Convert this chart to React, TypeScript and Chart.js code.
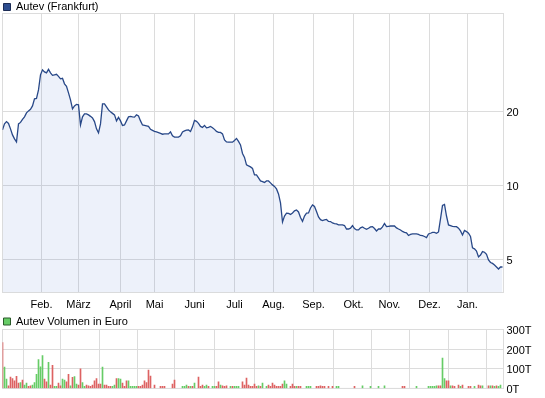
import React, { useEffect, useRef } from "react";
import { Chart, registerables } from "chart.js";
Chart.register(...registerables);

// ---- data ----
const monthLabels = ["Feb.", "März", "April", "Mai", "Juni", "Juli", "Aug.", "Sep.", "Okt.", "Nov.", "Dez.", "Jan."];
// month boundaries, expressed in trading-day index
const monthStarts = [19.5, 38, 59, 76, 96, 116, 135.5, 155.5, 175.5, 193.5, 213.5, 232.5];
const priceTicks = [5, 10, 20];
const volumeTicks = [0, 100, 200, 300];

// daily closing price (EUR), one per trading day
const priceValues = [
  16.82, 17.79, 18.18, 17.87, 16.98, 16.05, 15.46, 15.03, 17.79, 18.04,
  18.55, 19.0, 19.72, 20.09, 20.38, 21.05, 22.48, 22.59, 24.46, 28.15,
  29.5, 28.95, 28.68, 29.64, 28.68, 28.02, 28.15, 28.29, 27.76, 27.12,
  27.24, 25.88, 25.28, 23.78, 22.28, 20.47, 21.05, 21.36, 21.26, 17.62,
  19.0, 19.54, 19.54, 19.35, 19.09, 18.82, 18.18, 16.98, 16.35, 17.79,
  21.46, 21.46, 20.86, 20.28, 19.91, 19.63, 19.35, 18.3, 18.91, 18.3,
  17.54, 17.62, 18.3, 19.0, 19.09, 19.0, 18.95, 19.35, 19.17, 18.3,
  17.62, 17.54, 17.46, 17.38, 16.9, 16.74, 16.58, 16.51, 16.4, 16.28,
  16.15, 16.2, 16.2, 16.2, 16.51, 15.9, 15.71, 15.71, 15.71, 15.9,
  16.51, 16.66, 16.77, 16.82, 16.58, 17.3, 18.38, 18.21, 17.87, 17.38,
  17.22, 17.54, 17.14, 17.22, 17.38, 17.17, 16.9, 16.58, 16.43, 16.43,
  16.2, 15.31, 15.03, 14.99, 14.99, 14.99, 15.24, 15.53, 15.1, 14.61,
  13.49, 13.0, 12.12, 12.0, 11.89, 11.73, 11.03, 11.03, 10.73, 10.43,
  10.36, 10.28, 10.43, 10.43, 10.24, 10.05, 9.91, 9.68, 9.23, 8.49,
  7.1, 7.51, 7.71, 7.69, 7.62, 7.73, 7.88, 7.95, 7.8, 7.41,
  7.14, 7.51, 7.71, 7.73, 8.1, 8.33, 8.21, 7.84, 7.44, 7.26,
  7.2, 7.24, 7.27, 7.14, 7.13, 7.04, 7.0, 6.97, 6.91, 6.91,
  6.91, 6.87, 6.65, 6.65, 6.7, 6.87, 6.68, 6.59, 6.59, 6.72,
  6.78, 6.7, 6.63, 6.7, 6.78, 6.8, 6.68, 6.53, 6.65, 6.65,
  6.78, 7.0, 6.8, 6.82, 6.84, 6.84, 6.84, 6.72, 6.65, 6.59,
  6.5, 6.44, 6.41, 6.26, 6.32, 6.35, 6.35, 6.35, 6.32, 6.26,
  6.25, 6.2, 6.14, 6.35, 6.39, 6.44, 6.44, 6.39, 6.47, 7.31,
  8.29, 8.37, 7.51, 6.91, 6.86, 6.81, 6.8, 6.8, 6.7, 6.53,
  6.29, 6.56, 6.49, 6.39, 6.2, 5.57, 5.52, 5.41, 5.12, 5.21,
  5.38, 5.35, 5.25, 4.98, 4.86, 4.82, 4.75, 4.66, 4.57, 4.66,
  4.66,
];

// trading-day index of each volume bar
const volumeDay = [
  0, 1, 2, 3, 4, 5, 6, 7, 8, 9,
  10, 11, 12, 13, 14, 15, 16, 17, 18, 19,
  20, 21, 22, 23, 24, 25, 26, 27, 28, 29,
  30, 31, 32, 33, 34, 35, 36, 37, 38, 39,
  40, 41, 42, 43, 44, 45, 46, 47, 48, 49,
  50, 51, 52, 53, 54, 55, 56, 57, 58, 59,
  60, 61, 62, 63, 64, 65, 66, 67, 68, 69,
  70, 71, 72, 73, 74, 76, 79, 80, 81, 85,
  86, 90, 91, 92, 93, 94, 95, 96, 98, 99,
  100, 101, 102, 103, 105, 106, 107, 108, 109, 110,
  111, 112, 114, 115, 116, 117, 118, 120, 121, 122,
  123, 124, 125, 126, 127, 128, 129, 130, 132, 133,
  134, 135, 136, 137, 138, 139, 140, 141, 142, 144,
  145, 146, 147, 148, 149, 152, 153, 154, 157, 158,
  159, 160, 161, 163, 165, 167, 168, 176, 180, 184,
  188, 191, 200, 201, 207, 213, 214, 215, 216, 217,
  218, 219, 220, 221, 222, 223, 224, 225, 226, 228,
  229, 230, 233, 234, 236, 238, 239, 240, 243, 244,
  245, 246, 247, 248, 249,
];
// traded volume in thousand EUR
const volumeK = [
  233, 108, 47, 13, 58, 50, 38, 62, 27, 30,
  43, 17, 27, 10, 13, 17, 30, 72, 147, 110,
  167, 47, 33, 133, 17, 117, 10, 10, 27, 13,
  47, 43, 33, 72, 13, 57, 60, 22, 17, 100,
  30, 10, 17, 13, 10, 17, 38, 50, 22, 22,
  108, 17, 17, 10, 10, 10, 17, 50, 50, 47,
  27, 10, 38, 38, 10, 10, 10, 10, 10, 10,
  17, 38, 30, 93, 63, 17, 10, 10, 10, 22,
  43, 10, 10, 17, 10, 10, 10, 27, 58, 10,
  17, 10, 17, 10, 10, 10, 10, 33, 17, 13,
  10, 13, 10, 10, 10, 10, 10, 33, 17, 53,
  17, 10, 10, 22, 10, 13, 10, 27, 10, 17,
  10, 27, 17, 10, 10, 10, 22, 38, 22, 10,
  22, 10, 10, 10, 10, 10, 10, 10, 10, 10,
  13, 10, 10, 10, 10, 10, 10, 10, 13, 10,
  10, 13, 10, 10, 10, 10, 10, 10, 10, 13,
  13, 13, 155, 50, 38, 38, 13, 13, 10, 17,
  10, 17, 10, 10, 10, 17, 13, 13, 13, 13,
  13, 10, 13, 10, 17,
];
// 1 = price rose that day (green), 0 = fell (red)
const volumeUp = [
  0, 1, 1, 0, 0, 0, 0, 0, 0, 1,
  0, 1, 1, 0, 0, 1, 1, 1, 1, 1,
  1, 0, 0, 1, 0, 0, 1, 1, 0, 0,
  1, 1, 0, 0, 1, 0, 1, 1, 0, 0,
  1, 1, 0, 0, 0, 0, 0, 0, 0, 0,
  1, 0, 0, 0, 0, 1, 1, 0, 1, 1,
  0, 0, 0, 1, 1, 1, 1, 1, 0, 0,
  0, 0, 0, 0, 0, 0, 0, 0, 0, 0,
  0, 1, 1, 1, 0, 1, 0, 1, 0, 0,
  0, 1, 1, 0, 1, 1, 0, 0, 1, 0,
  0, 0, 1, 0, 1, 1, 1, 0, 0, 0,
  0, 0, 0, 0, 0, 1, 0, 1, 1, 0,
  0, 0, 0, 0, 0, 0, 0, 1, 1, 0,
  0, 0, 1, 0, 0, 1, 1, 1, 0, 0,
  0, 0, 0, 0, 0, 1, 1, 0, 1, 1,
  1, 1, 0, 0, 1, 1, 1, 1, 1, 1,
  0, 0, 1, 1, 0, 0, 1, 0, 0, 0,
  1, 0, 0, 0, 1, 0, 0, 1, 0, 1,
  0, 1, 0, 1, 1,
];

// ---- styling ----
const FONT = "'Liberation Sans', Arial, sans-serif";
const GRID = "#dcdcdc";
const X_MAX = 250.5;
const LINE = "#284888";
const GREEN = "#66cc66";
const RED = "#dd6262";

const framePlugin = {
  id: "frame",
  beforeDatasetsDraw(chart: any) {
    const { ctx, chartArea: a } = chart;
    ctx.save();
    ctx.strokeStyle = GRID;
    ctx.lineWidth = 1;
    ctx.strokeRect(a.left, a.top, a.right - a.left, a.bottom - a.top);
    ctx.restore();
  },
};

const font = { family: FONT, size: 11 };

export default function App() {
  const topRef = useRef<HTMLCanvasElement | null>(null);
  const botRef = useRef<HTMLCanvasElement | null>(null);

  useEffect(() => {
    Chart.defaults.font.family = FONT;
    Chart.defaults.font.size = 11;
    Chart.defaults.color = "#000";

    const xScaleBase = {
      type: "linear" as const,
      min: 0,
      max: X_MAX,
      position: "bottom" as const,
      afterBuildTicks: (s: any) => {
        s.ticks = monthStarts.map((v) => ({ value: v }));
      },
      grid: { color: GRID, drawTicks: false, lineWidth: 1 },
      border: { display: false },
    };

    const top = new Chart(topRef.current!, {
      type: "line",
      data: {
        datasets: [
          {
            label: "Autev (Frankfurt)",
            data: priceValues.map((v, i) => ({ x: i, y: v })),
            borderColor: LINE,
            borderWidth: 1.3,
            backgroundColor: "rgba(60,100,200,0.09)",
            fill: "start",
            pointRadius: 0,
            tension: 0,
          },
        ],
      },
      options: {
        responsive: false,
        animation: false,
        events: [],
        layout: { padding: { left: 2.5, top: 0.5, right: 0, bottom: 0 } },
        plugins: {
          legend: {
            display: true,
            position: "top",
            align: "start",
            maxHeight: 13,
            labels: {
              boxWidth: 7,
              boxHeight: 7,
              padding: 1,
              font,
              color: "#000",
              generateLabels: () => [
                {
                  text: "Autev (Frankfurt)",
                  fillStyle: "#2d4d8f",
                  strokeStyle: "#1c2c55",
                  lineWidth: 1,
                  hidden: false,
                  datasetIndex: 0,
                } as any,
              ],
            },
          },
          tooltip: { enabled: false },
        },
        scales: {
          x: {
            ...xScaleBase,
            afterFit: (s: any) => {
              s.height = 19.5;
            },
            ticks: {
              autoSkip: false,
              maxRotation: 0,
              minRotation: 0,
              padding: 6,
              font,
              color: "#000",
              callback: (_v: any, i: number) => monthLabels[i],
            },
          },
          y: {
            type: "logarithmic",
            position: "right",
            min: 3.67,
            max: 50,
            afterBuildTicks: (s: any) => {
              s.ticks = priceTicks.map((v) => ({ value: v }));
            },
            afterFit: (s: any) => {
              s.width = 41.5;
            },
            grid: { color: GRID, drawTicks: false, lineWidth: 1 },
            border: { display: false },
            ticks: { padding: 3, labelOffset: 1.5, font, color: "#000", callback: (v: any) => String(v) },
          },
        },
      } as any,
      plugins: [framePlugin],
    });

    const bot = new Chart(botRef.current!, {
      type: "bar",
      data: {
        datasets: [
          {
            label: "Autev Volumen in Euro",
            data: volumeDay.map((d, k) => ({ x: d, y: volumeK[k] })),
            backgroundColor: volumeUp.map((u) => (u ? GREEN : RED)),
            borderWidth: 0,
            barThickness: 1,
            grouped: false,
          } as any,
        ],
      },
      options: {
        responsive: false,
        animation: false,
        events: [],
        layout: { padding: { left: 2.5, top: 3, right: 0, bottom: 8.5 } },
        plugins: {
          legend: {
            display: true,
            position: "top",
            align: "start",
            maxHeight: 14.5,
            labels: {
              boxWidth: 7,
              boxHeight: 7,
              padding: 1,
              font,
              color: "#000",
              generateLabels: () => [
                {
                  text: "Autev Volumen in Euro",
                  fillStyle: GREEN,
                  strokeStyle: "#2a5a2a",
                  lineWidth: 1,
                  hidden: false,
                  datasetIndex: 0,
                } as any,
              ],
            },
          },
          tooltip: { enabled: false },
        },
        scales: {
          x: {
            ...xScaleBase,
            offset: false,
            afterFit: (s: any) => {
              s.height = 0;
            },
            ticks: { display: false, autoSkip: false },
          },
          y: {
            type: "linear",
            position: "right",
            min: 0,
            max: 300,
            afterBuildTicks: (s: any) => {
              s.ticks = volumeTicks.map((v) => ({ value: v }));
            },
            afterFit: (s: any) => {
              s.width = 41.5;
            },
            grid: { color: GRID, drawTicks: false, lineWidth: 1 },
            border: { display: false },
            ticks: { padding: 3, labelOffset: 1.5, font, color: "#000", callback: (v: any) => v + "T" },
          },
        },
      } as any,
      plugins: [framePlugin],
    });

    return () => {
      top.destroy();
      bot.destroy();
    };
  }, []);

  return (
    <div style={{ position: "absolute", left: 0, top: 0, width: 545, height: 398, background: "#fff" }}>
      <canvas ref={topRef} width={545} height={312} style={{ position: "absolute", left: 0, top: 0 }} />
      <canvas ref={botRef} width={545} height={86} style={{ position: "absolute", left: 0, top: 312 }} />
    </div>
  );
}
